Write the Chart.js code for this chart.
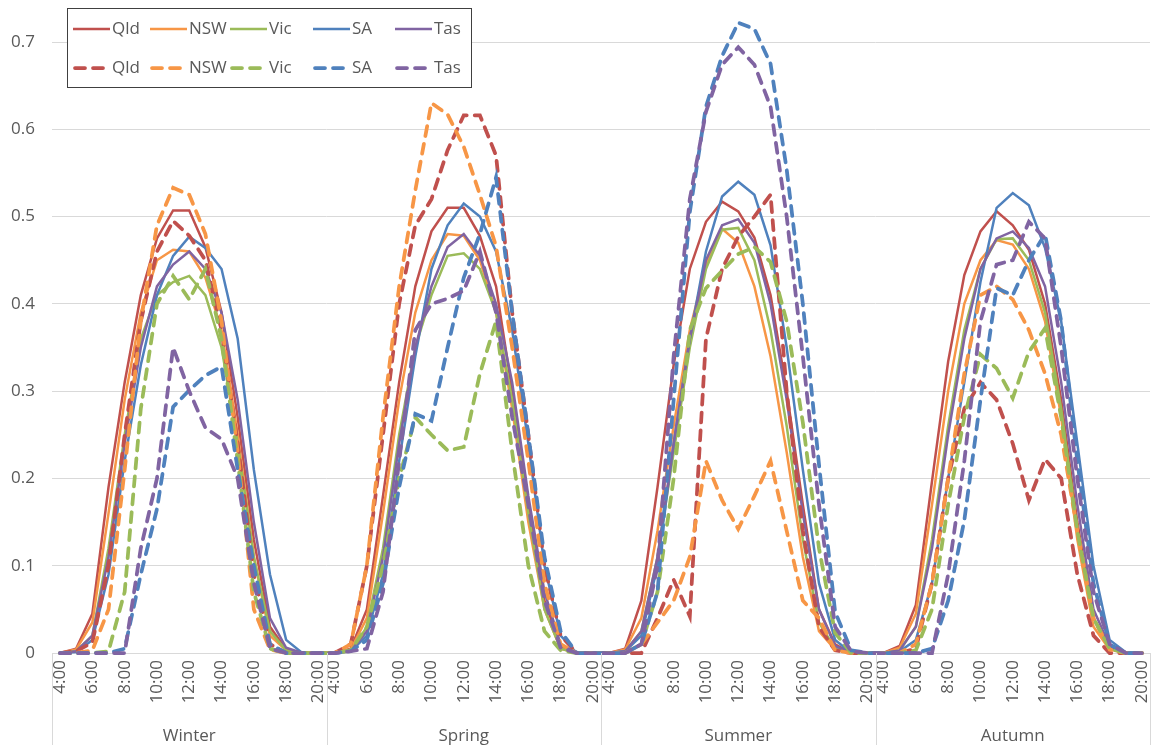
<!DOCTYPE html>
<html>
<head>
<meta charset="utf-8">
<script src="https://cdn.jsdelivr.net/npm/chart.js@4.4.1/dist/chart.umd.min.js"></script>
<style>
  html, body { margin: 0; padding: 0; background: #fff; }
</style>
</head>
<body>
<canvas id="grafico" width="1152" height="745"></canvas>
<script>
// categorias: estações e horas (4:00 a 20:00)
const seasons = ['Winter', 'Spring', 'Summer', 'Autumn'];
const hours = ['4:00', '5:00', '6:00', '7:00', '8:00', '9:00', '10:00', '11:00', '12:00',
               '13:00', '14:00', '15:00', '16:00', '17:00', '18:00', '19:00', '20:00'];
const states = ['Qld', 'NSW', 'Vic', 'SA', 'Tas'];
const yTicks = [0, 0.1, 0.2, 0.3, 0.4, 0.5, 0.6, 0.7];

// linhas cheias (uma linha por estação do ano)
const qldSolid = [
  0, 0.005, 0.045, 0.19, 0.31, 0.41, 0.475, 0.507, 0.507, 0.465, 0.39, 0.27, 0.13, 0.03, 0.004, 0, 0,
  0, 0.005, 0.05, 0.18, 0.31, 0.42, 0.483, 0.51, 0.51, 0.478, 0.42, 0.3, 0.17, 0.06, 0.008, 0, 0,
  0, 0.005, 0.06, 0.19, 0.33, 0.44, 0.494, 0.517, 0.506, 0.476, 0.41, 0.3, 0.17, 0.05, 0.01, 0, 0,
  0, 0.008, 0.055, 0.197, 0.334, 0.433, 0.483, 0.506, 0.49, 0.462, 0.4, 0.29, 0.15, 0.04, 0.005, 0, 0];
const nswSolid = [
  0, 0.004, 0.035, 0.16, 0.29, 0.39, 0.45, 0.462, 0.46, 0.43, 0.37, 0.25, 0.11, 0.02, 0.003, 0, 0,
  0, 0.004, 0.04, 0.16, 0.29, 0.39, 0.45, 0.48, 0.478, 0.45, 0.39, 0.28, 0.15, 0.05, 0.005, 0, 0,
  0, 0.004, 0.04, 0.14, 0.26, 0.37, 0.445, 0.486, 0.47, 0.42, 0.34, 0.23, 0.11, 0.025, 0.004, 0, 0,
  0, 0.006, 0.045, 0.17, 0.3, 0.4, 0.45, 0.473, 0.468, 0.44, 0.38, 0.27, 0.13, 0.03, 0.004, 0, 0];
const vicSolid = [
  0, 0.002, 0.02, 0.12, 0.25, 0.36, 0.41, 0.425, 0.432, 0.41, 0.35, 0.24, 0.11, 0.025, 0.003, 0, 0,
  0, 0.002, 0.03, 0.12, 0.25, 0.35, 0.41, 0.455, 0.458, 0.44, 0.39, 0.29, 0.16, 0.05, 0.005, 0, 0,
  0, 0.002, 0.025, 0.11, 0.23, 0.35, 0.44, 0.485, 0.487, 0.45, 0.37, 0.26, 0.13, 0.035, 0.005, 0, 0,
  0, 0.003, 0.03, 0.13, 0.26, 0.37, 0.44, 0.474, 0.475, 0.45, 0.39, 0.28, 0.14, 0.04, 0.005, 0, 0];
const saSolid = [
  0, 0.001, 0.015, 0.09, 0.22, 0.33, 0.41, 0.455, 0.477, 0.464, 0.44, 0.36, 0.21, 0.09, 0.015, 0, 0,
  0, 0.002, 0.02, 0.09, 0.22, 0.34, 0.44, 0.49, 0.515, 0.5, 0.46, 0.37, 0.24, 0.1, 0.02, 0, 0,
  0, 0.002, 0.02, 0.1, 0.24, 0.36, 0.46, 0.523, 0.54, 0.525, 0.467, 0.35, 0.21, 0.08, 0.015, 0, 0,
  0, 0.002, 0.015, 0.08, 0.2, 0.31, 0.425, 0.51, 0.527, 0.513, 0.464, 0.38, 0.24, 0.1, 0.015, 0.001, 0];
const tasSolid = [
  0, 0.002, 0.02, 0.11, 0.24, 0.35, 0.42, 0.445, 0.46, 0.44, 0.39, 0.29, 0.15, 0.04, 0.006, 0, 0,
  0, 0.002, 0.025, 0.11, 0.24, 0.35, 0.42, 0.465, 0.48, 0.455, 0.4, 0.31, 0.18, 0.07, 0.01, 0, 0,
  0, 0.002, 0.025, 0.11, 0.24, 0.36, 0.45, 0.49, 0.497, 0.47, 0.4, 0.29, 0.16, 0.05, 0.008, 0, 0,
  0, 0.003, 0.03, 0.12, 0.25, 0.36, 0.44, 0.475, 0.483, 0.464, 0.42, 0.31, 0.17, 0.05, 0.008, 0, 0];

// linhas tracejadas
const qldDash = [
  0, 0.002, 0.012, 0.1, 0.25, 0.38, 0.46, 0.495, 0.478, 0.45, 0.37, 0.24, 0.09, 0.01, 0, 0, 0,
  0, 0.01, 0.1, 0.25, 0.4, 0.49, 0.52, 0.576, 0.616, 0.616, 0.57, 0.39, 0.25, 0.1, 0.02, 0, 0,
  0, 0, 0, 0.04, 0.084, 0.042, 0.36, 0.44, 0.477, 0.5, 0.525, 0.3, 0.14, 0.03, 0.003, 0, 0,
  0, 0, 0.005, 0.08, 0.2, 0.28, 0.31, 0.29, 0.24, 0.175, 0.222, 0.2, 0.09, 0.02, 0, 0, 0];
const nswDash = [
  0, 0, 0.003, 0.05, 0.21, 0.38, 0.49, 0.533, 0.525, 0.48, 0.38, 0.23, 0.05, 0.004, 0, 0, 0,
  0, 0.01, 0.1, 0.27, 0.42, 0.53, 0.63, 0.617, 0.58, 0.525, 0.466, 0.35, 0.22, 0.08, 0.01, 0, 0,
  0, 0, 0.01, 0.035, 0.06, 0.11, 0.22, 0.175, 0.142, 0.18, 0.22, 0.14, 0.06, 0.04, 0.003, 0, 0,
  0, 0, 0.01, 0.08, 0.2, 0.32, 0.41, 0.42, 0.405, 0.37, 0.32, 0.25, 0.14, 0.04, 0.004, 0, 0];
const vicDash = [
  0, 0, 0, 0.002, 0.07, 0.28, 0.4, 0.432, 0.405, 0.44, 0.36, 0.22, 0.07, 0.005, 0, 0, 0,
  0, 0.003, 0.03, 0.1, 0.2, 0.27, 0.25, 0.232, 0.236, 0.32, 0.38, 0.23, 0.1, 0.025, 0.003, 0, 0,
  0, 0, 0.01, 0.07, 0.2, 0.37, 0.418, 0.438, 0.457, 0.465, 0.448, 0.38, 0.264, 0.12, 0.023, 0, 0,
  0, 0, 0.003, 0.05, 0.17, 0.27, 0.342, 0.326, 0.292, 0.345, 0.372, 0.27, 0.14, 0.04, 0.005, 0, 0];
const saDash = [
  0, 0, 0, 0, 0.005, 0.09, 0.165, 0.282, 0.301, 0.318, 0.328, 0.21, 0.1, 0.01, 0, 0, 0,
  0, 0.002, 0.015, 0.08, 0.19, 0.274, 0.266, 0.35, 0.43, 0.48, 0.545, 0.39, 0.25, 0.11, 0.025, 0, 0,
  0, 0, 0.01, 0.07, 0.29, 0.505, 0.626, 0.684, 0.722, 0.715, 0.675, 0.554, 0.4, 0.216, 0.047, 0.003, 0,
  0, 0, 0, 0.005, 0.06, 0.152, 0.29, 0.418, 0.41, 0.45, 0.48, 0.38, 0.22, 0.08, 0.01, 0, 0];
const tasDash = [
  0, 0, 0, 0, 0, 0.12, 0.2, 0.35, 0.3, 0.258, 0.245, 0.2, 0.08, 0.005, 0, 0, 0,
  0, 0.002, 0.005, 0.07, 0.22, 0.37, 0.4, 0.406, 0.415, 0.46, 0.39, 0.27, 0.17, 0.06, 0.006, 0, 0,
  0, 0, 0.01, 0.1, 0.34, 0.52, 0.62, 0.674, 0.694, 0.674, 0.626, 0.5, 0.34, 0.17, 0.03, 0.002, 0,
  0, 0, 0, 0, 0.09, 0.22, 0.38, 0.445, 0.45, 0.494, 0.475, 0.35, 0.2, 0.07, 0.01, 0, 0];

const solidSeries = [qldSolid, nswSolid, vicSolid, saSolid, tasSolid];
const dashSeries = [qldDash, nswDash, vicDash, saDash, tasDash];
const cores = ['#C0504D', '#F79646', '#9BBB59', '#4F81BD', '#8064A2'];

const corTexto = '#595959';
const corGrade = '#D9D9D9';
const fonte = '"Open Sans", "Liberation Sans", sans-serif';

// rótulos do eixo x: cada hora repetida para as quatro estações
const labels = [];
seasons.forEach(() => hours.forEach(h => labels.push(h)));

const datasets = [];
solidSeries.forEach((serie, i) => {
    datasets.push({
        label: states[i], data: serie, borderColor: cores[i], backgroundColor: cores[i],
        borderWidth: 2.5, pointRadius: 0, tension: 0, clip: false, tracejado: false
    });
});
dashSeries.forEach((serie, i) => {
    datasets.push({
        label: states[i], data: serie, borderColor: cores[i], backgroundColor: cores[i],
        borderWidth: 3.75, borderDash: [10, 8], borderCapStyle: 'round',
        pointRadius: 0, tension: 0, clip: false, tracejado: true
    });
});
// as últimas séries ficam por cima
datasets.forEach((d, i) => d.order = datasets.length - i);

// estações do ano por baixo das horas, com os separadores
const pluginEstacoes = {
    id: 'estacoes',
    afterDraw(chart) {
        const ctx = chart.ctx;
        const area = chart.chartArea;
        const largura = (area.right - area.left) / seasons.length;
        ctx.save();
        ctx.strokeStyle = corGrade;
        ctx.lineWidth = 1;
        for (let s = 0; s <= seasons.length; s++) {
            const x = Math.round(area.left + s * largura) + 0.5;
            ctx.beginPath();
            ctx.moveTo(x, area.bottom);
            ctx.lineTo(x, chart.height);
            ctx.stroke();
        }
        ctx.fillStyle = corTexto;
        ctx.font = '17px ' + fonte;
        ctx.textAlign = 'center';
        ctx.textBaseline = 'middle';
        seasons.forEach((nome, s) => {
            ctx.fillText(nome, area.left + (s + 0.5) * largura, 736);
        });
        ctx.restore();
    }
};

// legenda em caixa, duas linhas de cinco
const pluginLegenda = {
    id: 'legendaCaixa',
    afterDraw(chart) {
        const ctx = chart.ctx;
        const caixa = { x: 67.5, y: 8.5, w: 404, h: 79 };
        const colunas = [73, 150, 230, 313, 395];
        const linhas = [29, 68];
        ctx.save();
        ctx.fillStyle = '#fff';
        ctx.fillRect(caixa.x, caixa.y, caixa.w, caixa.h);
        ctx.strokeStyle = '#404040';
        ctx.lineWidth = 1;
        ctx.strokeRect(caixa.x, caixa.y, caixa.w, caixa.h);
        ctx.font = '17px ' + fonte;
        ctx.textBaseline = 'middle';
        ctx.textAlign = 'left';
        chart.data.datasets.forEach((d, i) => {
            const col = colunas[i % 5];
            const y = linhas[Math.floor(i / 5)];
            ctx.strokeStyle = d.borderColor;
            ctx.lineWidth = d.borderWidth;
            ctx.setLineDash(d.borderDash || []);
            ctx.lineCap = d.tracejado ? 'round' : 'butt';
            ctx.beginPath();
            ctx.moveTo(col + (d.tracejado ? 2 : 0), y);
            ctx.lineTo(col + 37, y);
            ctx.stroke();
            ctx.setLineDash([]);
            ctx.fillStyle = corTexto;
            ctx.fillText(d.label, col + 39, y);
        });
        ctx.restore();
    }
};

new Chart(document.getElementById('grafico'), {
    type: 'line',
    data: { labels: labels, datasets: datasets },
    options: {
        responsive: false,
        animation: false,
        devicePixelRatio: 1,
        layout: { padding: { top: 42, right: 2, left: 0, bottom: 0 } },
        plugins: { legend: { display: false }, tooltip: { enabled: false } },
        scales: {
            x: {
                offset: true,
                grid: { display: false, drawTicks: false },
                border: { display: true, color: corGrade },
                ticks: {
                    autoSkip: false, minRotation: 90, maxRotation: 90, padding: 7,
                    color: corTexto, font: { family: fonte, size: 17 },
                    callback: (v, i) => (i % hours.length) % 2 === 0 ? hours[i % hours.length] : ''
                },
                afterFit: s => { s.height = 92; s.paddingLeft = 0; s.paddingRight = 0; }
            },
            y: {
                min: 0, max: 0.7,
                afterBuildTicks: s => { s.ticks = yTicks.map(v => ({ value: v })); },
                grid: { color: corGrade, drawTicks: false },
                border: { display: false },
                ticks: {
                    padding: 17, color: corTexto, font: { family: fonte, size: 17 },
                    callback: v => v === 0 ? '0' : v.toFixed(1)
                },
                afterFit: s => { s.width = 52; }
            }
        }
    },
    plugins: [pluginEstacoes, pluginLegenda]
});
</script>
</body>
</html>
